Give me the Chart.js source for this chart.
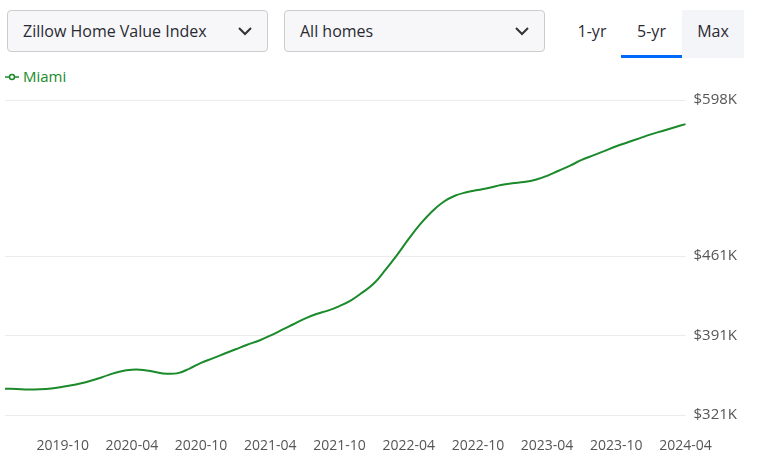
<!DOCTYPE html>
<html>
<head>
<meta charset="utf-8">
<script src="https://cdn.jsdelivr.net/npm/chart.js@4/dist/chart.umd.min.js"></script>
<style>
  body { margin: 0; width: 757px; height: 468px; background: #fff; font-family: "Open Sans", sans-serif; overflow: hidden; position: relative; }
  .dd { position: absolute; top: 10px; height: 42px; box-sizing: border-box; border: 1px solid #ccc; border-radius: 4px; background: #f7f7f9; color: #2a2a33; font-size: 16px; line-height: 40px; padding-left: 15px; }
  .dd svg { position: absolute; right: 14px; top: 14px; }
  .tab { position: absolute; top: 10px; height: 48px; line-height: 42px; font-size: 16px; color: #2a2a33; text-align: center; }
  .tab.sel { background: #fff; border-bottom: 3px solid #006aff; box-sizing: border-box; }
  .legend { position: absolute; top: 66px; left: 5px; font-size: 15px; color: #1a8a2a; }
  #wrap { position: absolute; top: 60px; left: 0; width: 757px; height: 408px; }
</style>
</head>
<body>
<div class="dd" style="left:7px;width:261px">Zillow Home Value Index
  <svg width="16" height="12" viewBox="0 0 16 12"><path d="M2 3 L8 9 L14 3" stroke="#333" stroke-width="2" fill="none"/></svg></div>
<div class="dd" style="left:284px;width:261px">All homes
  <svg width="16" height="12" viewBox="0 0 16 12"><path d="M2 3 L8 9 L14 3" stroke="#333" stroke-width="2" fill="none"/></svg></div>
<div class="tab" style="left:563px;width:58px">1-yr</div>
<div class="tab sel" style="left:621px;width:61px">5-yr</div>
<div class="tab" style="left:682px;width:62px;background:#f4f5f8">Max</div>
<div class="legend"><svg width="14" height="10"><line x1="0" y1="5" x2="14" y2="5" stroke="#1a8a2a" stroke-width="1.5"/><circle cx="7" cy="5" r="2.5" fill="#fff" stroke="#1a8a2a" stroke-width="1.5"/></svg> Miami</div>
<div id="wrap"><canvas id="chart"></canvas></div>
<script>
const months = [];
for (let y = 2019, m = 5; months.length < 60; m++) {
  if (m > 12) { m = 1; y++; }
  months.push(y + "-" + String(m).padStart(2, "0"));
}
const miami = [
  344.3, 344, 343.6, 343.8, 344.5, 346, 347.8, 350,
  353, 356.5, 359.5, 361, 360.8, 359, 357.5, 358, 362, 367, 371, 375,
  379, 383, 386.5, 391, 396, 401, 406, 410, 413, 417, 422, 429,
  437, 449, 462, 476, 489, 500, 508.5, 514, 517, 519, 521, 523.5,
  525, 526, 528, 531.5, 536, 540.5, 545.5, 549.5, 553.5, 557.5, 561, 564.5,
  568, 571, 574, 577
];
const yTicks = [321, 391, 461, 598];

new Chart(document.getElementById("chart"), {
  type: "line",
  data: {
    labels: months,
    datasets: [{
      label: "Miami",
      data: miami,
      borderColor: "#1a8a2a",
      borderWidth: 2,
      pointRadius: 0,
      tension: 0.4,
      fill: false
    }]
  },
  options: {
    responsive: true,
    maintainAspectRatio: false,
    animation: false,
    layout: { padding: { left: 5, right: 12, top: 30, bottom: 0 } },
    plugins: { legend: { display: false }, tooltip: { enabled: false } },
    scales: {
      x: {
        offset: false,
        grid: { display: false },
        border: { display: false },
        ticks: {
          autoSkip: false,
          maxRotation: 0,
          padding: 14,
          color: "#555",
          font: { family: "Open Sans", size: 14 },
          callback: (v, i) => /-(04|10)$/.test(months[i]) ? months[i] : null
        }
      },
      y: {
        position: "right",
        min: 321,
        max: 607,
        afterBuildTicks: (axis) => { axis.ticks = yTicks.map(v => ({ value: v })); },
        grid: { color: "#ececec", drawTicks: false },
        border: { display: false },
        ticks: {
          padding: 8,
          color: "#555",
          font: { family: "Open Sans", size: 15 },
          callback: v => "$" + v + "K"
        }
      }
    }
  }
});
</script>
</body>
</html>
